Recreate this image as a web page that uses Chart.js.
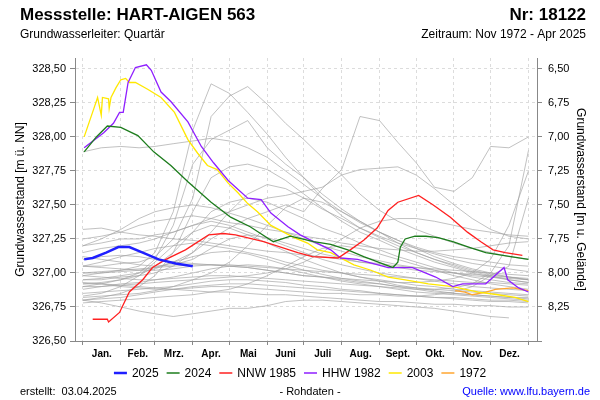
<!DOCTYPE html>
<html>
<head>
<meta charset="utf-8">
<script src="https://cdn.jsdelivr.net/npm/chart.js@4.4.1/dist/chart.umd.min.js"></script>
<style>
  body { margin: 0; background: #fff; }
</style>
</head>
<body>
<canvas id="myChart" width="600" height="400"></canvas>
<script>
// x axis = day of year, ticks on month boundaries, labels in the middle of each month
const monthStarts = [0, 31, 59, 90, 120, 151, 181, 212, 243, 273, 304, 334, 365];
const monthLabels = ['Jan.', 'Feb.', 'Mrz.', 'Apr.', 'Mai', 'Juni', 'Juli', 'Aug.', 'Sept.', 'Okt.', 'Nov.', 'Dez.'];
const levelTicks = [326.5, 326.75, 327.0, 327.25, 327.5, 327.75, 328.0, 328.25, 328.5];
const depthTicks = [6.5, 6.75, 7.0, 7.25, 7.5, 7.75, 8.0, 8.25, 8.5];
const groundLevel = 335.0;
const levelMin = 326.5;
const levelMax = 328.58;

// highlighted years
const days2025 = [1, 8, 19, 29, 38, 49, 62, 76, 90];
const level2025 = [327.10, 327.11, 327.15, 327.19, 327.19, 327.15, 327.10, 327.07, 327.05];

const days2024 = [1, 11, 20, 31, 45, 58, 72, 86, 105, 121, 137, 156, 170, 189, 203, 217, 230, 248, 254, 258, 260, 264, 272, 281, 291, 303, 316, 330, 344, 365];
const level2024 = [327.89, 328.00, 328.08, 328.07, 328.01, 327.89, 327.79, 327.67, 327.52, 327.41, 327.34, 327.23, 327.27, 327.23, 327.21, 327.17, 327.12, 327.06, 327.04, 327.08, 327.19, 327.25, 327.27, 327.27, 327.26, 327.23, 327.19, 327.15, 327.13, 327.10];

const daysNNW = [8, 20, 21, 30, 38, 49, 57, 68, 84, 103, 115, 125, 148, 176, 188, 209, 219, 230, 241, 250, 258, 275, 287, 301, 315, 326, 336, 346, 360];
const levelNNW = [326.66, 326.66, 326.64, 326.71, 326.86, 326.95, 327.04, 327.10, 327.17, 327.28, 327.29, 327.28, 327.23, 327.15, 327.12, 327.11, 327.17, 327.24, 327.33, 327.46, 327.52, 327.57, 327.50, 327.41, 327.30, 327.23, 327.17, 327.15, 327.13];

const daysHHW = [1, 17, 25, 30, 33, 37, 43, 52, 56, 64, 72, 86, 97, 107, 119, 135, 146, 154, 168, 178, 189, 203, 211, 225, 250, 270, 289, 303, 311, 330, 345, 348, 357, 365];
const levelHHW = [327.92, 328.03, 328.10, 328.18, 328.18, 328.40, 328.51, 328.53, 328.49, 328.33, 328.26, 328.11, 327.93, 327.81, 327.68, 327.55, 327.54, 327.44, 327.34, 327.28, 327.23, 327.17, 327.11, 327.10, 327.04, 327.04, 326.97, 326.90, 326.92, 326.92, 327.04, 326.95, 326.89, 326.86];

const days2003 = [1, 9, 12, 15, 16, 21, 21.5, 23, 27, 31, 35, 38, 43, 53, 64, 75, 86, 94, 102, 110, 119, 127, 135, 143, 154, 173, 184, 192, 203, 222, 236, 250, 264, 283, 303, 324, 340, 354, 365];
const level2003 = [328.00, 328.21, 328.29, 328.16, 328.29, 328.28, 328.21, 328.29, 328.36, 328.42, 328.43, 328.40, 328.40, 328.35, 328.29, 328.18, 327.98, 327.88, 327.79, 327.76, 327.66, 327.59, 327.51, 327.45, 327.35, 327.26, 327.22, 327.17, 327.15, 327.06, 327.02, 326.97, 326.95, 326.92, 326.90, 326.86, 326.84, 326.82, 326.79];

const days1972 = [305, 313, 319, 330, 338, 352, 365];
const level1972 = [326.87, 326.86, 326.84, 326.86, 326.88, 326.89, 326.87];

// all other years, half-monthly readings
const greyDays = [0, 15, 31, 46, 59, 74, 90, 105, 120, 135, 151, 166, 181, 196, 212, 227, 243, 258, 273, 288, 304, 319, 334, 349, 365];
const grey1 = [326.98, 327.00, 327.02, 327.05, 327.15, 327.45, 328.05, 328.39, 328.32, 328.18, 328.02, 327.85, 327.70, 327.55, 327.42, 327.33, 327.26, 327.20, 327.15, 327.10, 327.06, 327.02, 326.99, 326.97, 326.95];
const grey2 = [327.05, 327.05, 327.07, 327.08, 327.12, 327.25, 327.55, 328.15, 328.30, 328.37, 328.24, 328.10, 327.98, 327.85, 327.72, 327.58, 327.46, 327.38, 327.32, 327.27, 327.22, 327.18, 327.15, 327.12, 327.10];
const grey3 = [326.95, 326.95, 326.97, 326.98, 327.00, 327.05, 327.15, 327.25, 327.33, 327.40, 327.45, 327.50, 327.45, 327.62, 327.76, 328.15, 328.12, 327.96, 327.81, 327.63, 327.60, 327.70, 327.93, 327.92, 328.00];
const grey4 = [327.20, 327.22, 327.25, 327.25, 327.28, 327.30, 327.35, 327.40, 327.45, 327.50, 327.55, 327.57, 327.60, 327.63, 327.72, 327.76, 327.77, 327.78, 327.72, 327.62, 327.50, 327.40, 327.32, 327.27, 327.25];
const grey5 = [326.90, 326.92, 326.95, 327.00, 327.10, 327.35, 327.80, 327.98, 328.05, 328.12, 327.92, 327.80, 327.70, 327.58, 327.47, 327.38, 327.30, 327.22, 327.15, 327.10, 327.05, 327.01, 326.98, 326.95, 326.93];
const grey6 = [326.80, 326.82, 326.85, 326.90, 326.98, 327.15, 327.45, 327.70, 327.78, 327.80, 327.76, 327.68, 327.58, 327.48, 327.38, 327.30, 327.24, 327.18, 327.13, 327.08, 327.04, 327.00, 326.97, 326.95, 326.93];
const grey7 = [327.89, 327.92, 327.93, 327.92, 327.93, 327.95, 327.97, 327.99, 327.97, 327.92, 327.85, 327.75, 327.65, 327.55, 327.45, 327.37, 327.30, 327.24, 327.19, 327.15, 327.12, 327.10, 327.08, 327.06, 327.05];
const grey8 = [326.92, 326.93, 326.95, 326.98, 327.05, 327.15, 327.30, 327.45, 327.52, 327.55, 327.52, 327.46, 327.40, 327.33, 327.28, 327.22, 327.17, 327.12, 327.08, 327.04, 327.00, 326.97, 326.95, 326.93, 326.92];
const grey9 = [326.82, 326.83, 326.84, 326.85, 326.87, 326.90, 326.95, 327.00, 327.08, 327.20, 327.35, 327.48, 327.55, 327.52, 327.45, 327.38, 327.30, 327.24, 327.18, 327.12, 327.07, 327.03, 327.00, 326.97, 326.95];
const grey10 = [327.32, 327.33, 327.30, 327.28, 327.27, 327.25, 327.24, 327.22, 327.20, 327.18, 327.16, 327.15, 327.13, 327.12, 327.10, 327.08, 327.07, 327.05, 327.04, 327.03, 327.02, 327.01, 327.00, 326.99, 326.98];
const grey11 = [327.25, 327.27, 327.30, 327.35, 327.38, 327.40, 327.42, 327.40, 327.37, 327.35, 327.32, 327.30, 327.27, 327.25, 327.22, 327.20, 327.18, 327.17, 327.16, 327.16, 327.17, 327.18, 327.20, 327.22, 327.23];
const grey12 = [327.15, 327.18, 327.20, 327.22, 327.25, 327.30, 327.35, 327.38, 327.35, 327.30, 327.25, 327.20, 327.15, 327.10, 327.06, 327.03, 327.00, 326.98, 326.96, 326.94, 326.92, 326.90, 326.89, 326.88, 326.87];
const grey13 = [327.05, 327.08, 327.12, 327.15, 327.18, 327.20, 327.22, 327.20, 327.18, 327.15, 327.12, 327.08, 327.05, 327.02, 327.00, 326.97, 326.95, 326.93, 326.91, 326.90, 326.88, 326.87, 326.86, 326.85, 326.84];
const grey14 = [327.00, 327.01, 327.02, 327.03, 327.04, 327.05, 327.06, 327.06, 327.05, 327.04, 327.02, 327.00, 326.98, 326.97, 326.95, 326.93, 326.92, 326.90, 326.89, 326.88, 326.87, 326.86, 326.85, 326.84, 326.83];
const grey15 = [326.95, 326.96, 326.98, 327.00, 327.03, 327.08, 327.12, 327.15, 327.16, 327.14, 327.10, 327.06, 327.02, 326.99, 326.96, 326.94, 326.92, 326.90, 326.88, 326.86, 326.85, 326.84, 326.83, 326.82, 326.81];
const grey16 = [326.88, 326.90, 326.92, 326.93, 326.95, 326.97, 327.00, 327.03, 327.05, 327.06, 327.05, 327.03, 327.00, 326.97, 326.94, 326.92, 326.90, 326.88, 326.86, 326.85, 326.84, 326.83, 326.82, 326.81, 326.80];
const grey17 = [326.85, 326.86, 326.87, 326.88, 326.89, 326.90, 326.92, 326.94, 326.95, 326.95, 326.94, 326.93, 326.91, 326.90, 326.88, 326.87, 326.85, 326.84, 326.83, 326.82, 326.81, 326.80, 326.79, 326.79, 326.78];
const grey18 = [326.80, 326.81, 326.82, 326.84, 326.86, 326.88, 326.90, 326.91, 326.92, 326.92, 326.91, 326.90, 326.89, 326.88, 326.87, 326.86, 326.85, 326.84, 326.83, 326.82, 326.82, 326.81, 326.80, 326.80, 326.79];
const grey19 = [326.80, 326.78, 326.75, 326.72, 326.70, 326.68, 326.70, 326.72, 326.74, 326.74, 326.76, 326.79, 326.80, 326.80, 326.79, 326.78, 326.77, 326.76, 326.75, 326.74, 326.72, 326.70, 326.68, 326.67, null];
const grey20 = [327.10, 327.12, 327.13, 327.12, 327.10, 327.08, 327.07, 327.06, 327.06, 327.05, 327.04, 327.03, 327.02, 327.01, 327.00, 326.99, 326.98, 326.97, 326.96, 326.95, 326.94, 326.93, 326.93, 326.92, 326.91];
const grey21 = [326.98, 326.97, 326.96, 326.95, 326.95, 326.96, 326.97, 326.98, 326.98, 326.97, 326.96, 326.95, 326.94, 326.93, 326.92, 326.91, 326.90, 326.89, 326.88, 326.88, 326.89, 326.92, 327.00, 327.20, 327.90];
const grey22 = [327.05, 327.04, 327.03, 327.02, 327.02, 327.03, 327.05, 327.06, 327.05, 327.04, 327.02, 327.00, 326.98, 326.97, 326.96, 326.95, 326.94, 326.93, 326.93, 326.94, 326.96, 327.00, 327.10, 327.35, 327.75];
const grey23 = [326.93, 326.92, 326.90, 326.89, 326.88, 326.88, 326.89, 326.90, 326.90, 326.89, 326.88, 326.87, 326.86, 326.85, 326.85, 326.84, 326.84, 326.83, 326.83, 326.84, 326.86, 326.90, 326.98, 327.05, 327.55];
const grey24 = [326.90, 326.90, 326.91, 326.92, 326.93, 326.94, 326.95, 326.96, 326.97, 326.98, 327.00, 327.03, 327.08, 327.15, 327.25, 327.33, 327.38, 327.40, 327.40, 327.38, 327.35, 327.32, 327.30, 327.28, 327.27];
const grey25 = [327.20, 327.25, 327.32, 327.40, 327.45, 327.48, 327.50, 327.48, 327.44, 327.40, 327.35, 327.30, 327.25, 327.20, 327.16, 327.12, 327.09, 327.06, 327.04, 327.02, 327.00, 326.98, 326.97, 326.96, 326.95];
const grey26 = [326.83, 326.85, 326.90, 326.98, 327.08, 327.20, 327.30, 327.35, 327.33, 327.28, 327.22, 327.16, 327.10, 327.05, 327.00, 326.97, 326.94, 326.91, 326.89, 326.87, 326.85, 326.84, 326.83, 326.82, 326.82];
const grey27 = [326.78, 326.79, 326.80, 326.81, 326.82, 326.83, 326.84, 326.86, 326.88, 326.92, 326.98, 327.05, 327.12, 327.18, 327.20, 327.18, 327.14, 327.10, 327.06, 327.02, 326.98, 326.95, 326.92, 326.90, 326.88];
const grey28 = [326.92, 326.92, 326.91, 326.90, 326.89, 326.88, 326.87, 326.86, 326.86, 326.85, 326.84, 326.84, 326.83, 326.82, 326.81, 326.80, 326.79, 326.79, 326.78, 326.77, 326.77, 326.76, 326.76, 326.75, 326.75];
const grey29 = [327.00, 327.00, 327.01, 327.02, 327.04, 327.08, 327.15, 327.30, 327.45, 327.58, 327.65, 327.62, 327.55, 327.47, 327.40, 327.33, 327.27, 327.22, 327.18, 327.14, 327.10, 327.07, 327.05, 327.03, 327.01];
const grey30 = [327.12, 327.10, 327.08, 327.06, 327.05, 327.06, 327.10, 327.18, 327.25, 327.28, 327.26, 327.22, 327.18, 327.14, 327.11, 327.08, 327.06, 327.04, 327.02, 327.01, 327.00, 326.99, 326.98, 326.97, 326.96];
const greyYears = [grey1, grey2, grey3, grey4, grey5, grey6, grey7, grey8, grey9, grey10, grey11, grey12, grey13, grey14, grey15,
    grey16, grey17, grey18, grey19, grey20, grey21, grey22, grey23, grey24, grey25, grey26, grey27, grey28, grey29, grey30];

const FONT = '"Liberation Sans", Arial, sans-serif';

function toPoints(days, values) {
    const pts = [];
    for (let i = 0; i < days.length; i++) {
        if (values[i] !== null) pts.push({ x: days[i], y: values[i] });
    }
    return pts;
}

function lineSet(label, days, values, color, width) {
    return {
        label: label,
        data: toPoints(days, values),
        borderColor: color,
        backgroundColor: color,
        borderWidth: width,
        pointRadius: 0,
        tension: 0,
        fill: false,
    };
}

const highlighted = [
    { label: '2025', days: days2025, values: level2025, color: '#1f1fff', width: 2.5 },
    { label: '2024', days: days2024, values: level2024, color: '#1c7c1c', width: 1.3 },
    { label: 'NNW 1985', days: daysNNW, values: levelNNW, color: '#ff2020', width: 1.3 },
    { label: 'HHW 1982', days: daysHHW, values: levelHHW, color: '#8f1fff', width: 1.3 },
    { label: '2003', days: days2003, values: level2003, color: '#ffe800', width: 1.3 },
    { label: '1972', days: days1972, values: level1972, color: '#ffa630', width: 1.3 },
];

const datasets = highlighted.map(h => lineSet(h.label, h.days, h.values, h.color, h.width));
greyYears.forEach((g, i) => {
    datasets.push(lineSet('grey' + (i + 1), greyDays, g, 'rgba(160,160,160,0.65)', 1));
});

const midMonths = [];
for (let i = 0; i < 12; i++) midMonths.push((monthStarts[i] + monthStarts[i + 1]) / 2);

function fmt(v) {
    return v.toFixed(2).replace('.', ',');
}

// header, legend and footer
const textPlugin = {
    id: 'texts',
    beforeDraw(chart) {
        const c = chart.ctx;
        c.save();
        c.fillStyle = '#fff';
        c.fillRect(0, 0, chart.width, chart.height);
        c.restore();
    },
    afterDraw(chart) {
        const c = chart.ctx;
        c.save();
        c.fillStyle = '#000';
        c.textBaseline = 'alphabetic';
        c.font = 'bold 17px ' + FONT;
        c.textAlign = 'left';
        c.fillText('Messstelle: HART-AIGEN 563', 20, 20);
        c.textAlign = 'right';
        c.fillText('Nr: 18122', 586, 20);
        c.font = '12px ' + FONT;
        c.textAlign = 'left';
        c.fillText('Grundwasserleiter: Quartär', 20, 38);
        c.textAlign = 'right';
        c.fillText('Zeitraum: Nov 1972 - Apr 2025', 586, 38);

        // legend
        c.font = '12px ' + FONT;
        c.textBaseline = 'middle';
        c.textAlign = 'left';
        const lineLen = 13, gap = 5, spacing = 8;
        let total = 0;
        highlighted.forEach((h, i) => {
            total += lineLen + gap + c.measureText(h.label).width + (i < highlighted.length - 1 ? spacing : 0);
        });
        let x = 300 - total / 2;
        const y = 373;
        highlighted.forEach(h => {
            c.strokeStyle = h.color;
            c.lineWidth = h.label === '2025' ? 2.5 : 1.5;
            c.beginPath();
            c.moveTo(x, y);
            c.lineTo(x + lineLen, y);
            c.stroke();
            x += lineLen + gap;
            c.fillStyle = '#000';
            c.fillText(h.label, x, y + 1);
            x += c.measureText(h.label).width + spacing;
        });

        // footer
        c.font = '11px ' + FONT;
        c.textBaseline = 'alphabetic';
        c.fillStyle = '#000';
        c.textAlign = 'left';
        c.fillText('erstellt:  03.04.2025', 20, 395);
        c.textAlign = 'center';
        c.fillText('- Rohdaten -', 310, 395);
        c.textAlign = 'right';
        c.fillStyle = '#0000ff';
        c.fillText('Quelle: www.lfu.bayern.de', 590, 395);
        c.restore();
    }
};

const ctx = document.getElementById('myChart').getContext('2d');
const chart = new Chart(ctx, {
    type: 'line',
    data: { datasets: datasets },
    options: {
        responsive: false,
        animation: false,
        parsing: true,
        layout: { padding: { top: 58, left: 0, right: 0, bottom: 0 } },
        plugins: {
            legend: { display: false },
            tooltip: { enabled: false },
        },
        scales: {
            x: {
                type: 'linear',
                min: -6.5,
                max: 372,
                afterBuildTicks: (scale) => {
                    scale.ticks = monthStarts.concat(midMonths).sort((a, b) => a - b).map(v => ({ value: v }));
                },
                afterFit: (scale) => { scale.height = 59; },
                grid: {
                    color: (c) => (c.tick && monthStarts.includes(c.tick.value)) ? '#dcdcdc' : 'rgba(0,0,0,0)',
                    tickColor: (c) => (c.tick && monthStarts.includes(c.tick.value)) ? '#888' : 'rgba(0,0,0,0)',
                    tickLength: 4,
                    lineWidth: 1,
                },
                border: { display: true, color: '#888', width: 1, dash: [3, 3] },
                ticks: {
                    autoSkip: false,
                    maxRotation: 0,
                    padding: 3,
                    color: '#000',
                    font: { family: FONT, size: 10, weight: 'bold' },
                    callback: (v) => {
                        const i = midMonths.indexOf(v);
                        return i >= 0 ? monthLabels[i] : '';
                    },
                },
            },
            y: {
                type: 'linear',
                position: 'left',
                min: levelMin,
                max: levelMax,
                afterBuildTicks: (scale) => { scale.ticks = levelTicks.map(v => ({ value: v })); },
                afterFit: (scale) => { scale.width = 75; },
                grid: { color: '#dcdcdc', tickColor: '#888', tickLength: 5, lineWidth: 1 },
                border: { display: true, color: '#888', width: 1, dash: [3, 3] },
                ticks: {
                    padding: 4,
                    color: '#000',
                    font: { family: FONT, size: 11 },
                    callback: (v) => fmt(v),
                },
                title: {
                    display: true,
                    text: 'Grundwasserstand [m ü. NN]',
                    color: '#000',
                    font: { family: FONT, size: 12 },
                    padding: { top: 13, bottom: 0 },
                },
            },
            y2: {
                type: 'linear',
                position: 'right',
                reverse: true,
                min: groundLevel - levelMax,
                max: groundLevel - levelMin,
                afterBuildTicks: (scale) => { scale.ticks = depthTicks.map(v => ({ value: v })); },
                afterFit: (scale) => { scale.width = 63; },
                grid: { drawOnChartArea: false, tickColor: '#888', tickLength: 5 },
                border: { display: true, color: '#888', width: 1 },
                ticks: {
                    padding: 6,
                    color: '#000',
                    font: { family: FONT, size: 11 },
                    callback: (v) => (v === 8.5 ? '' : fmt(v)),
                },
                title: {
                    display: true,
                    text: 'Grundwasserstand [m u. Gelände]',
                    color: '#000',
                    font: { family: FONT, size: 12 },
                    padding: { top: 12, bottom: 0 },
                },
            },
        },
    },
    plugins: [textPlugin],
});
</script>
</body>
</html>
